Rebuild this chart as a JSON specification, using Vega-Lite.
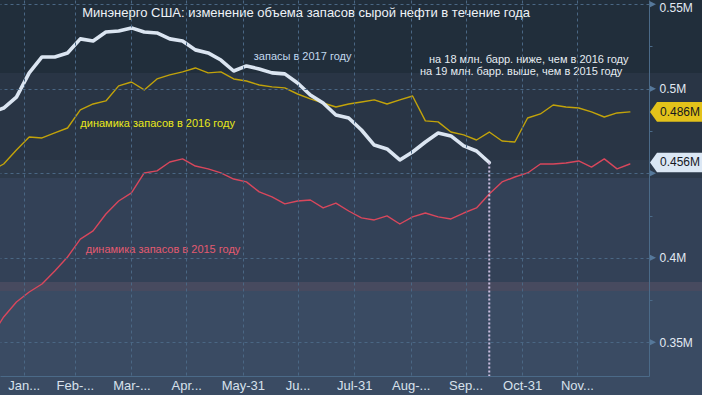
{
  "$schema": "https://vega.github.io/schema/vega-lite/v6.json",
  "width": 649,
  "height": 376,
  "autosize": {"type": "none"},
  "padding": {"left": 0, "top": 0, "right": 53, "bottom": 19},
  "background": "#3a4b63",
  "config": {"view": {"stroke": null}, "font": "Liberation Sans"},
  "datasets": {
    "main": [
      {"d":"2017-01-13","s":"2015","v":353.1},{"d":"2017-01-20","s":"2015","v":365.0},{"d":"2017-01-27","s":"2015","v":373.9},{"d":"2017-02-03","s":"2015","v":379.8},{"d":"2017-02-10","s":"2015","v":384.5},{"d":"2017-02-17","s":"2015","v":392.2},{"d":"2017-02-24","s":"2015","v":400.5},{"d":"2017-03-03","s":"2015","v":411.1},{"d":"2017-03-10","s":"2015","v":415.9},{"d":"2017-03-17","s":"2015","v":425.9},{"d":"2017-03-24","s":"2015","v":433.6},{"d":"2017-03-31","s":"2015","v":438.4},{"d":"2017-04-07","s":"2015","v":450.2},{"d":"2017-04-14","s":"2015","v":451.4},{"d":"2017-04-21","s":"2015","v":456.7},{"d":"2017-04-28","s":"2015","v":458.5},{"d":"2017-05-05","s":"2015","v":454.3},{"d":"2017-05-12","s":"2015","v":452.6},{"d":"2017-05-19","s":"2015","v":450.2},{"d":"2017-05-26","s":"2015","v":446.6},{"d":"2017-06-02","s":"2015","v":444.9},{"d":"2017-06-09","s":"2015","v":439.0},{"d":"2017-06-16","s":"2015","v":436.0},{"d":"2017-06-23","s":"2015","v":431.9},{"d":"2017-06-30","s":"2015","v":433.6},{"d":"2017-07-07","s":"2015","v":434.2},{"d":"2017-07-14","s":"2015","v":429.5},{"d":"2017-07-21","s":"2015","v":432.4},{"d":"2017-07-28","s":"2015","v":427.7},{"d":"2017-08-04","s":"2015","v":423.6},{"d":"2017-08-11","s":"2015","v":422.4},{"d":"2017-08-18","s":"2015","v":424.8},{"d":"2017-08-25","s":"2015","v":420.0},{"d":"2017-09-01","s":"2015","v":424.2},{"d":"2017-09-08","s":"2015","v":426.5},{"d":"2017-09-15","s":"2015","v":424.2},{"d":"2017-09-22","s":"2015","v":423.0},{"d":"2017-09-29","s":"2015","v":426.5},{"d":"2017-10-06","s":"2015","v":429.5},{"d":"2017-10-13","s":"2015","v":437.8},{"d":"2017-10-20","s":"2015","v":444.9},{"d":"2017-10-27","s":"2015","v":447.8},{"d":"2017-11-03","s":"2015","v":450.2},{"d":"2017-11-10","s":"2015","v":455.5},{"d":"2017-11-17","s":"2015","v":455.5},{"d":"2017-11-24","s":"2015","v":456.1},{"d":"2017-12-01","s":"2015","v":457.3},{"d":"2017-12-08","s":"2015","v":453.7},{"d":"2017-12-15","s":"2015","v":458.5},{"d":"2017-12-22","s":"2015","v":452.6},{"d":"2017-12-29","s":"2015","v":455.5},
      {"d":"2017-01-13","s":"2016","v":451.4},{"d":"2017-01-20","s":"2016","v":455.5},{"d":"2017-01-27","s":"2016","v":463.8},{"d":"2017-02-03","s":"2016","v":471.5},{"d":"2017-02-10","s":"2016","v":470.9},{"d":"2017-02-17","s":"2016","v":473.9},{"d":"2017-02-24","s":"2016","v":476.8},{"d":"2017-03-03","s":"2016","v":487.5},{"d":"2017-03-10","s":"2016","v":491.0},{"d":"2017-03-17","s":"2016","v":492.8},{"d":"2017-03-24","s":"2016","v":501.7},{"d":"2017-03-31","s":"2016","v":504.0},{"d":"2017-04-07","s":"2016","v":499.3},{"d":"2017-04-14","s":"2016","v":505.8},{"d":"2017-04-21","s":"2016","v":508.2},{"d":"2017-04-28","s":"2016","v":510.0},{"d":"2017-05-05","s":"2016","v":512.3},{"d":"2017-05-12","s":"2016","v":509.4},{"d":"2017-05-19","s":"2016","v":510.0},{"d":"2017-05-26","s":"2016","v":505.8},{"d":"2017-06-02","s":"2016","v":504.6},{"d":"2017-06-09","s":"2016","v":502.2},{"d":"2017-06-16","s":"2016","v":501.1},{"d":"2017-06-23","s":"2016","v":500.5},{"d":"2017-06-30","s":"2016","v":496.9},{"d":"2017-07-07","s":"2016","v":494.0},{"d":"2017-07-14","s":"2016","v":491.6},{"d":"2017-07-21","s":"2016","v":489.2},{"d":"2017-07-28","s":"2016","v":491.0},{"d":"2017-08-04","s":"2016","v":492.2},{"d":"2017-08-11","s":"2016","v":493.4},{"d":"2017-08-18","s":"2016","v":491.0},{"d":"2017-08-25","s":"2016","v":493.4},{"d":"2017-09-01","s":"2016","v":495.7},{"d":"2017-09-08","s":"2016","v":481.0},{"d":"2017-09-15","s":"2016","v":480.4},{"d":"2017-09-22","s":"2016","v":474.4},{"d":"2017-09-29","s":"2016","v":472.7},{"d":"2017-10-06","s":"2016","v":469.7},{"d":"2017-10-13","s":"2016","v":474.4},{"d":"2017-10-20","s":"2016","v":469.1},{"d":"2017-10-27","s":"2016","v":468.5},{"d":"2017-11-03","s":"2016","v":482.7},{"d":"2017-11-10","s":"2016","v":485.1},{"d":"2017-11-17","s":"2016","v":490.4},{"d":"2017-11-24","s":"2016","v":489.2},{"d":"2017-12-01","s":"2016","v":488.6},{"d":"2017-12-08","s":"2016","v":486.3},{"d":"2017-12-15","s":"2016","v":483.3},{"d":"2017-12-22","s":"2016","v":485.7},{"d":"2017-12-29","s":"2016","v":486.3},
      {"d":"2017-01-13","s":"2017","v":486.0},{"d":"2017-01-20","s":"2017","v":488.6},{"d":"2017-01-27","s":"2017","v":495.1},{"d":"2017-02-03","s":"2017","v":509.4},{"d":"2017-02-10","s":"2017","v":518.8},{"d":"2017-02-17","s":"2017","v":518.8},{"d":"2017-02-24","s":"2017","v":521.2},{"d":"2017-03-03","s":"2017","v":529.5},{"d":"2017-03-10","s":"2017","v":528.3},{"d":"2017-03-17","s":"2017","v":533.6},{"d":"2017-03-24","s":"2017","v":534.2},{"d":"2017-03-31","s":"2017","v":536.0},{"d":"2017-04-07","s":"2017","v":533.6},{"d":"2017-04-14","s":"2017","v":533.0},{"d":"2017-04-21","s":"2017","v":529.5},{"d":"2017-04-28","s":"2017","v":528.3},{"d":"2017-05-05","s":"2017","v":523.0},{"d":"2017-05-12","s":"2017","v":521.2},{"d":"2017-05-19","s":"2017","v":517.0},{"d":"2017-05-26","s":"2017","v":510.5},{"d":"2017-06-02","s":"2017","v":513.5},{"d":"2017-06-09","s":"2017","v":511.7},{"d":"2017-06-16","s":"2017","v":509.4},{"d":"2017-06-23","s":"2017","v":508.8},{"d":"2017-06-30","s":"2017","v":503.4},{"d":"2017-07-07","s":"2017","v":496.3},{"d":"2017-07-14","s":"2017","v":491.6},{"d":"2017-07-21","s":"2017","v":484.5},{"d":"2017-07-28","s":"2017","v":482.7},{"d":"2017-08-04","s":"2017","v":475.6},{"d":"2017-08-11","s":"2017","v":466.7},{"d":"2017-08-18","s":"2017","v":464.4},{"d":"2017-08-25","s":"2017","v":457.9},{"d":"2017-09-01","s":"2017","v":462.6},{"d":"2017-09-08","s":"2017","v":468.5},{"d":"2017-09-15","s":"2017","v":473.8},{"d":"2017-09-22","s":"2017","v":472.1},{"d":"2017-09-29","s":"2017","v":466.2},{"d":"2017-10-06","s":"2017","v":463.2},{"d":"2017-10-13","s":"2017","v":456.4}
    ],
    "bands": [
      {"b":"b1","lo":509.35,"hi":600},
      {"b":"b2","lo":457.9,"hi":509.35},
      {"b":"b3","lo":447.2,"hi":457.9},
      {"b":"b4","lo":385.7,"hi":447.2},
      {"b":"b5","lo":380.4,"hi":385.7}
    ],
    "notes": [
      {"t":"запасы в 2017 году","k":"l2017","d":"2017-06-06","v":517.3},
      {"t":"динамика запасов в 2016 году","k":"l2016","d":"2017-03-03","v":477.4},
      {"t":"динамика запасов в 2015 году","k":"l2015","d":"2017-03-06","v":402.8},
      {"t":"на 18 млн. барр. ниже, чем в 2016 году","k":"note","d":"2017-09-10","v":515.1},
      {"t":"на 19 млн. барр. выше, чем в 2015 году","k":"note","d":"2017-09-05","v":508.0}
    ],
    "title": [
      {"t":"Минэнерго США: изменение объема запасов сырой нефти в течение года","d":"2017-03-04","v":542.2}
    ],
    "ticks": [{"v":350},{"v":400},{"v":450},{"v":500},{"v":550}]
  },
  "layer": [
    {
      "data": {"name": "bands"},
      "mark": {"type": "rect", "clip": false},
      "encoding": {
        "x": {"datum": {"year": 2017, "month": 1, "date": 1, "utc": true}, "type": "temporal", "title": null},
        "x2": {"datum": {"year": 2018, "month": 3, "date": 1, "utc": true}},
        "y": {"field": "lo", "type": "quantitative", "title": null},
        "y2": {"field": "hi"},
        "fill": {"field": "b", "type": "nominal", "legend": null,
          "scale": {"domain": ["b1","b2","b3","b4","b5"], "range": ["#212e3b","#293545","#2d3a4b","#334157","#474a5f"]}}
      }
    },
    {
      "data": {"name": "main"},
      "mark": {"type": "line", "clip": true, "strokeJoin": "round", "strokeCap": "round"},
      "encoding": {
        "x": {"field": "d", "type": "temporal", "title": null,
          "scale": {"domain": [{"year": 2017, "month": 1, "date": 18, "utc": true}, {"year": 2018, "month": 1, "date": 8, "hours": 12, "utc": true}], "nice": false},
          "axis": {
            "title": null,
            "values": [
              {"year": 2017, "month": 1, "date": 31, "utc": true},
              {"year": 2017, "month": 2, "date": 28, "utc": true},
              {"year": 2017, "month": 3, "date": 31, "utc": true},
              {"year": 2017, "month": 4, "date": 30, "utc": true},
              {"year": 2017, "month": 5, "date": 31, "utc": true},
              {"year": 2017, "month": 6, "date": 30, "utc": true},
              {"year": 2017, "month": 7, "date": 31, "utc": true},
              {"year": 2017, "month": 8, "date": 31, "utc": true},
              {"year": 2017, "month": 9, "date": 30, "utc": true},
              {"year": 2017, "month": 10, "date": 31, "utc": true},
              {"year": 2017, "month": 11, "date": 30, "utc": true}
            ],
            "labelExpr": "['Jan...','Feb-...','Mar-...','Apr...','May-31','Ju...','Jul-31','Aug-...','Sep...','Oct-31','Nov...','Dec...'][utcmonth(datum.value)]",
            "grid": true, "gridColor": "#4a6784", "gridDash": [3, 3],
            "ticks": false, "domain": true, "domainColor": "#4b6a88",
            "labelColor": "#d7e1ec", "labelFontSize": 13, "labelPadding": 3,
            "labelFlush": false, "labelOverlap": false, "zindex": 1
          }
        },
        "y": {"field": "v", "type": "quantitative", "title": null,
          "scale": {"domain": [330.1, 552.5], "nice": false, "zero": false},
          "axis": {
            "title": null, "orient": "right",
            "values": [350, 375, 400, 425, 450, 475, 500, 525, 550],
            "labelExpr": "datum.value % 50 === 0 && datum.value !== 450 ? format(datum.value / 1000, '.2~f') + 'M' : ''",
            "grid": true, "gridColor": "#4a6784", "gridDash": [3, 3],
            "gridOpacity": {"condition": {"test": "datum.value % 50 === 0", "value": 1}, "value": 0},
            "tickSize": 3, "tickColor": "#4b6a88",
            "tickOpacity": {"condition": {"test": "datum.value % 50 === 0", "value": 0}, "value": 1},
            "labelOffset": {"condition": {"test": "datum.value === 550", "value": 3}, "value": 0},
            "labelFlush": false, "labelOverlap": false,
            "domainColor": "#4b6a88", "labelColor": "#e2eaf3", "labelFontSize": 12, "labelPadding": 7,
            "zindex": 1
          }
        },
        "stroke": {"field": "s", "type": "nominal", "legend": null,
          "scale": {"domain": ["2015", "2016", "2017"], "range": ["#d9475c", "#c2a30a", "#dbe5f1"]}},
        "strokeWidth": {"condition": {"test": "datum.s === '2017'", "value": 3.6}, "value": 1.4}
      }
    },
    {
      "data": {"name": "main"},
      "transform": [
        {"joinaggregate": [{"op": "max", "field": "d", "as": "md"}], "groupby": ["s"]},
        {"filter": "datum.s === '2017' && +datum.d === +datum.md"}
      ],
      "mark": {"type": "rule", "color": "#cbbfe0", "strokeWidth": 2, "strokeDash": [2, 2]},
      "encoding": {
        "x": {"field": "d", "type": "temporal", "title": null},
        "y": {"field": "v", "type": "quantitative", "title": null},
        "y2": {"datum": 330.1}
      }
    },
    {
      "data": {"name": "title"},
      "mark": {"type": "text", "align": "left", "baseline": "alphabetic", "fontSize": 13, "color": "#eef2f7"},
      "encoding": {
        "x": {"field": "d", "type": "temporal", "title": null},
        "y": {"field": "v", "type": "quantitative", "title": null},
        "text": {"field": "t"}
      }
    },
    {
      "data": {"name": "notes"},
      "mark": {"type": "text", "align": "left", "baseline": "alphabetic", "fontSize": 11},
      "encoding": {
        "x": {"field": "d", "type": "temporal", "title": null},
        "y": {"field": "v", "type": "quantitative", "title": null},
        "text": {"field": "t"},
        "color": {"field": "k", "type": "nominal", "legend": null,
          "scale": {"domain": ["l2017", "l2016", "l2015", "note"], "range": ["#c3d9ef", "#e8e81a", "#e35a70", "#e6ecf2"]}}
      }
    },
    {
      "data": {"name": "ticks"},
      "mark": {"type": "point", "shape": "M0,-0.5L1,0L0,0.5Z", "size": 196, "filled": true, "color": "#56789a", "opacity": 1, "strokeWidth": 0, "clip": false},
      "encoding": {
        "x": {"datum": {"year": 2018, "month": 1, "date": 8, "hours": 12, "utc": true}, "type": "temporal", "title": null},
        "y": {"field": "v", "type": "quantitative", "title": null}
      }
    },
    {
      "data": {"name": "main"},
      "transform": [
        {"joinaggregate": [{"op": "max", "field": "d", "as": "md"}], "groupby": ["s"]},
        {"filter": "datum.s !== '2015' && +datum.d === +datum.md"},
        {"calculate": "format(datum.v / 1000, '.3f') + 'M'", "as": "lab"}
      ],
      "layer": [
        {
          "mark": {"type": "point", "shape": "M0,0L0.25,-0.35L2,-0.35L2,0.35L0.25,0.35Z", "size": 3136, "filled": true, "opacity": 1, "strokeWidth": 0, "clip": false, "xOffset": 1},
          "encoding": {
            "x": {"datum": {"year": 2018, "month": 1, "date": 8, "hours": 12, "utc": true}, "type": "temporal", "title": null},
            "y": {"field": "v", "type": "quantitative", "title": null},
            "color": {"field": "s", "type": "nominal", "legend": null,
              "scale": {"domain": ["2016", "2017"], "range": ["#e3c21a", "#dbe7f4"]}}
          }
        },
        {
          "mark": {"type": "text", "align": "left", "baseline": "middle", "fontSize": 12, "color": "#15181f", "xOffset": 11, "clip": false},
          "encoding": {
            "x": {"datum": {"year": 2018, "month": 1, "date": 8, "hours": 12, "utc": true}, "type": "temporal", "title": null},
            "y": {"field": "v", "type": "quantitative", "title": null},
            "text": {"field": "lab"}
          }
        }
      ],
      "resolve": {"scale": {"color": "independent"}}
    }
  ],
  "resolve": {"scale": {"color": "independent", "fill": "independent"}}
}
